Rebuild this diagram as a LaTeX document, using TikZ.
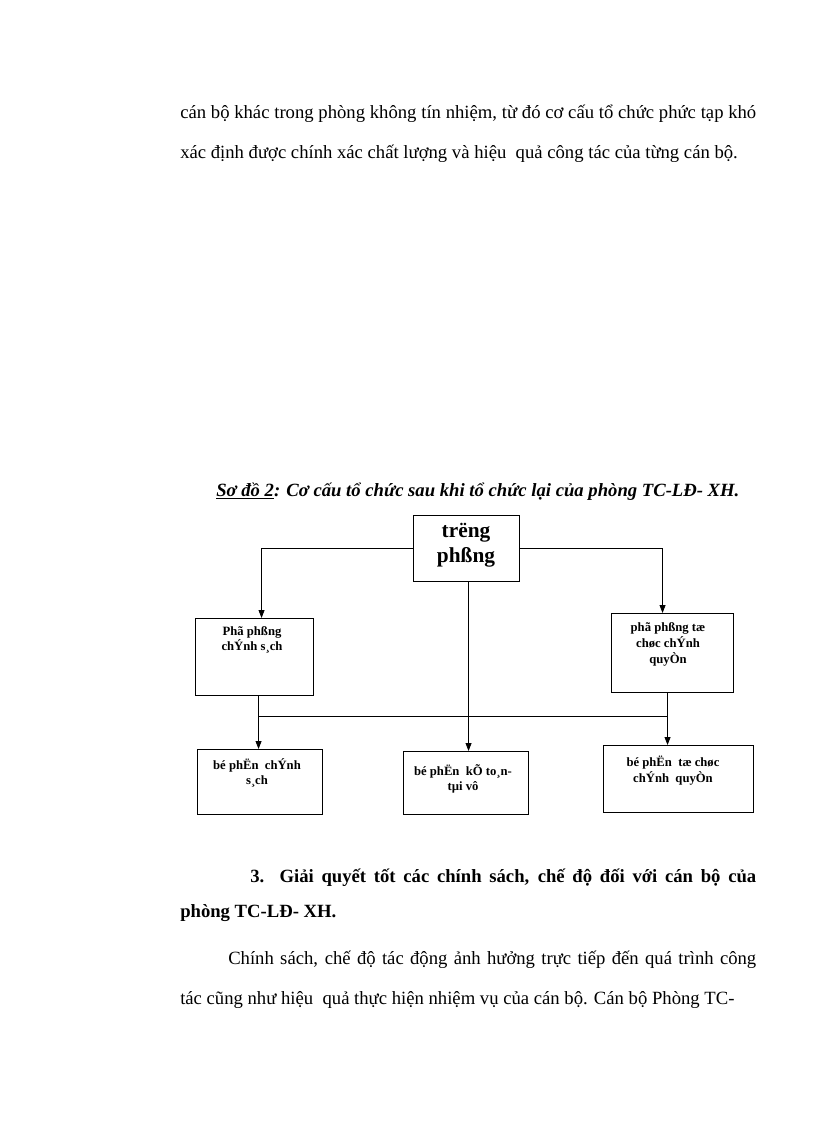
\documentclass[tikz,border=0pt]{standalone}
\usepackage{fontspec}
\setmainfont{Liberation Serif}
\usetikzlibrary{arrows.meta,calc}
\begin{document}
\begin{tikzpicture}[x=0.75pt,y=-0.75pt,
  box/.style={draw,line width=0.8pt,inner sep=0pt,anchor=north west},
  lbl/.style={font=\bfseries\fontsize{9.5}{11.5}\selectfont,align=center,anchor=north,inner sep=0pt},
  toplbl/.style={font=\bfseries\fontsize{16}{18.5}\selectfont,align=center,inner sep=0pt},
  arr/.style={line width=0.6pt,-{Triangle[length=6pt,width=4.5pt]}},
  ln/.style={line width=0.6pt},
  body/.style={font=\fontsize{14}{16}\selectfont,anchor=base west,inner sep=0pt},
  bodyb/.style={body,font=\bfseries\fontsize{14}{16}\selectfont},
  captxt/.style={font=\bfseries\itshape\fontsize{14}{16}\selectfont,anchor=base west,inner sep=0pt},
]
\useasboundingbox (0,0) rectangle (816,1123);

% text above
\node[body] (p1) at (180,119) {\hbox to 432pt{cán bộ khác trong phòng không tín nhiệm,  từ đó cơ cấu tổ chức phức tạp khó}};
\node[body] (p2) at (180,159) {xác định được chính xác chất lượng và hiệu\ \ quả công tác của từng cán bộ.};

% caption
\node[captxt] (capt) at (216,496) {\underline{Sơ đồ 2}: Cơ cấu tổ chức sau khi tổ chức lại của phòng TC-LĐ- XH.};

% boxes
\node[box,minimum width={106*0.75pt},minimum height={66*0.75pt}] (top) at (413,515) {};
\node[box,minimum width={118*0.75pt},minimum height={77*0.75pt}] (pcs) at (195,618) {};
\node[box,minimum width={122*0.75pt},minimum height={79*0.75pt}] (ptc) at (611,613) {};
\node[box,minimum width={125*0.75pt},minimum height={65*0.75pt}] (bcs) at (197,749) {};
\node[box,minimum width={125*0.75pt},minimum height={63*0.75pt}] (bkt) at (403,751) {};
\node[box,minimum width={150*0.75pt},minimum height={67*0.75pt}] (btc) at (603,745) {};

% labels
\node[toplbl] (ttop) at (466,545) {trëng\\phßng};
\node[lbl] (tpcs) at (252,626) {Phã phßng\\chÝnh s¸ch};
\node[lbl,font=\bfseries\fontsize{9.5}{12}\selectfont] (tptc) at (668,622) {phã phßng tæ\\chøc chÝnh\\quyÒn};
\node[lbl] (tbcs) at (257,758) {bé phËn\ \ chÝnh\\s¸ch};
\node[lbl] (tbkt) at (463,764) {bé phËn\ \ kÕ to¸n-\\tµi vô};
\node[lbl] (tbtc) at (673,756) {bé phËn\ \ tæ chøc\\chÝnh\ \ quyÒn};

% connectors
\draw[arr] (top.west) -| ($(pcs.north)+(7,0)$);
\draw[arr] (top.east) -| ($(ptc.north)+(-10,0)$);
\draw[arr] ($(top.south)+(2,0)$) coordinate (mA) -- (mA |- bkt.north);
\draw[arr] ($(pcs.south)+(4,0)$) coordinate (lA) -- (lA |- bcs.north);
\draw[arr] ($(ptc.south)+(-5,0)$) coordinate (rA) -- (rA |- btc.north);
\draw[ln] (lA |- 0,716) -- (rA |- 0,716);

% text below
\node[bodyb] (h1) at (250,882) {\hbox to 379.5pt{3. Giải quyết tốt các chính sách, chế độ đối với cán bộ của}};
\node[bodyb] (h2) at (180,917) {phòng TC-LĐ- XH.};
\node[body] (b1) at (228,964) {\hbox to 396pt{Chính sách, chế độ tác động ảnh hưởng trực tiếp đến quá trình công}};
\node[body] (b2) at (180,1004) {tác cũng như hiệu\ \ quả thực hiện nhiệm vụ của cán bộ. Cán bộ Phòng TC-};
\end{tikzpicture}
\end{document}
